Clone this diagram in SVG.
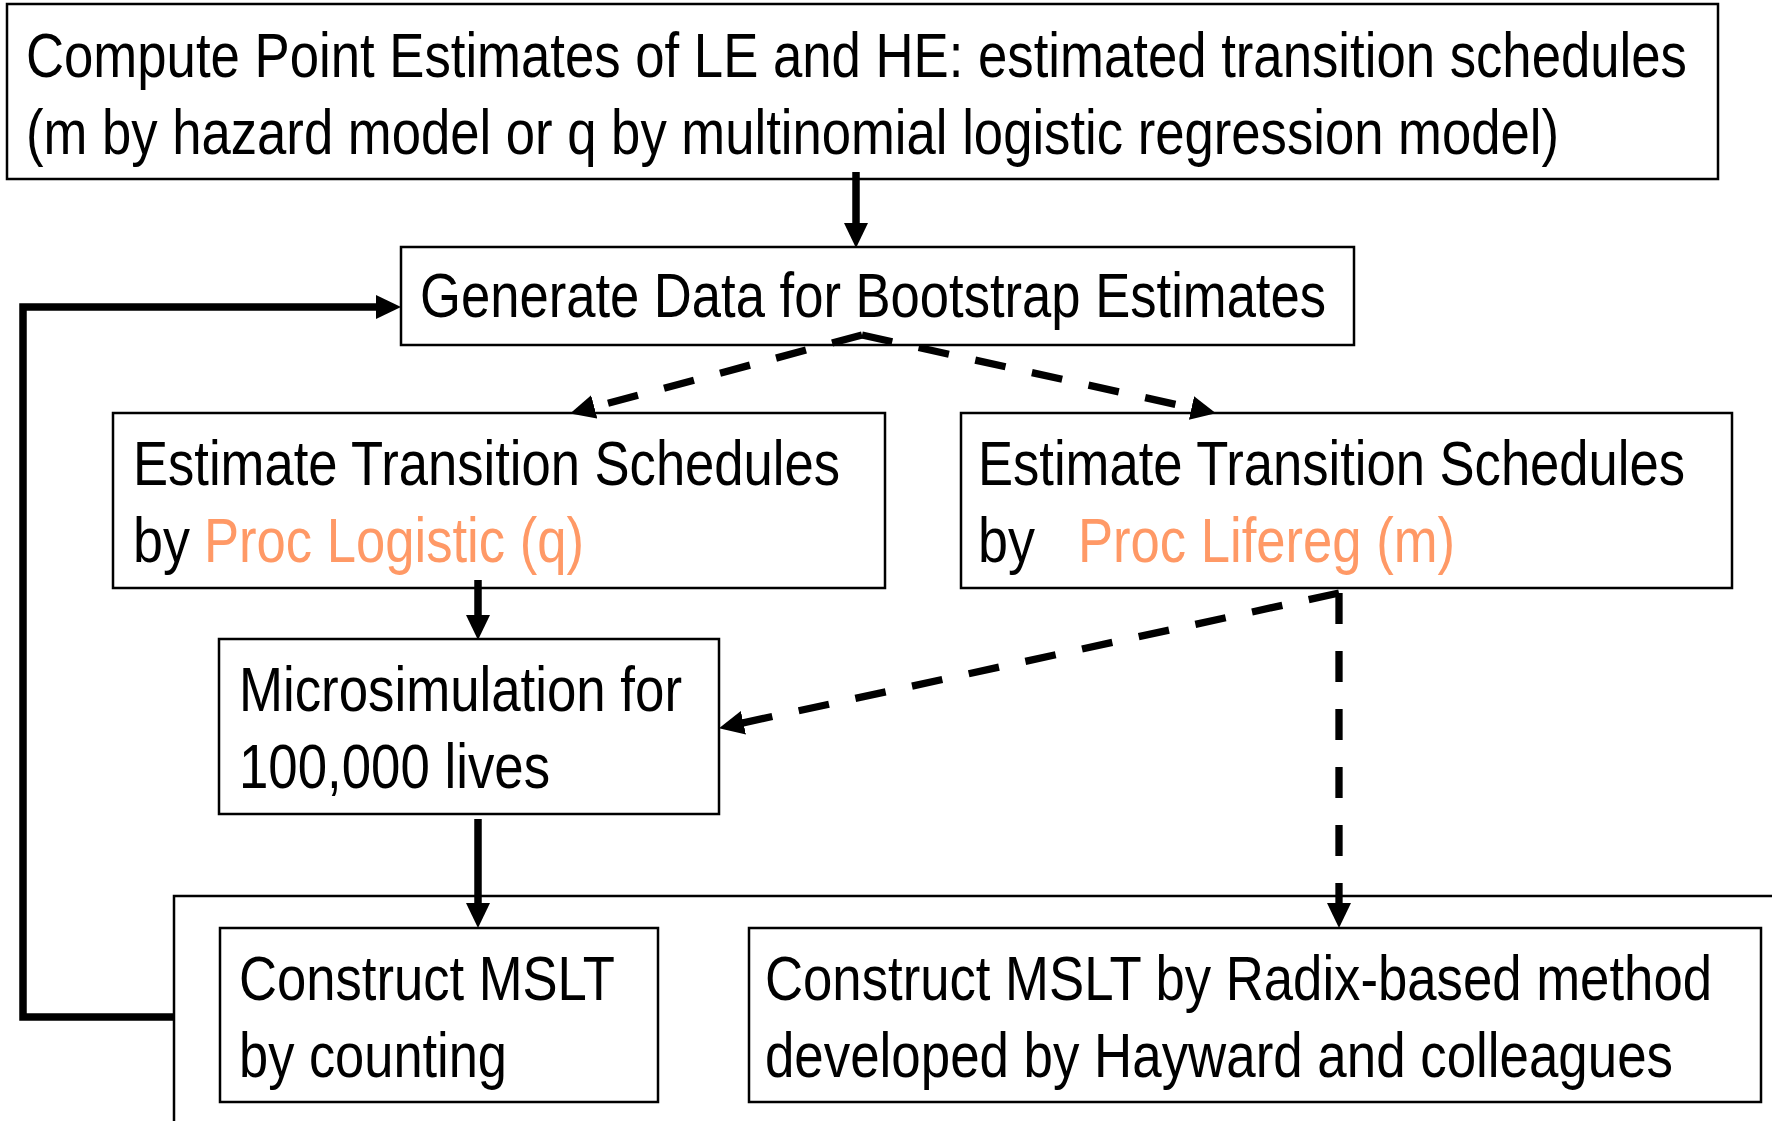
<svg xmlns="http://www.w3.org/2000/svg" width="1772" height="1121" viewBox="0 0 1772 1121">
<style>
.box{fill:#fff;stroke:#000;stroke-width:2.5}
.t{font-family:"Liberation Sans",Arial,sans-serif;font-size:63px;fill:#000}
.o{fill:#FF9966}
.sol{fill:none;stroke:#000;stroke-width:7.5}
.loop{fill:none;stroke:#000;stroke-width:7.5;stroke-linejoin:miter}
.dash{fill:none;stroke:#000;stroke-width:7.3;stroke-dasharray:31 27}
</style>
<defs>
<marker id="ah" markerUnits="userSpaceOnUse" markerWidth="28" markerHeight="26" refX="4" refY="12" orient="auto" viewBox="0 0 28 26">
<path d="M0,0 L25,12 L0,24 z" fill="#000"/>
</marker>
</defs>
<rect width="1772" height="1121" fill="#fff"/>

<g id="container">
<path class="box" d="M174,1130 V896 H1780" fill="none"/>
</g>

<g id="node-compute">
<rect class="box" x="7" y="4" width="1711" height="175"/>
<g transform="scale(0.82 1)">
<text class="t" x="31.7" y="77" textLength="2025.6" lengthAdjust="spacingAndGlyphs">Compute Point Estimates of LE and HE: estimated transition schedules</text>
<text class="t" x="31.7" y="154" textLength="1869.5" lengthAdjust="spacingAndGlyphs">(m by hazard model or q by multinomial logistic regression model)</text>
</g>
</g>

<g id="node-generate">
<rect class="box" x="401" y="247" width="953" height="98"/>
<g transform="scale(0.82 1)">
<text class="t" x="512.2" y="317" textLength="1104.9" lengthAdjust="spacingAndGlyphs">Generate Data for Bootstrap Estimates</text>
</g>
</g>

<g id="node-logistic">
<rect class="box" x="113" y="413" width="772" height="175"/>
<g transform="scale(0.82 1)">
<text class="t" x="162.2" y="485" textLength="862.2" lengthAdjust="spacingAndGlyphs">Estimate Transition Schedules</text>
<text class="t" x="162.2" y="562" textLength="69.5" lengthAdjust="spacingAndGlyphs">by</text>
<text class="t o" x="248.8" y="562" textLength="463.4" lengthAdjust="spacingAndGlyphs">Proc Logistic (q)</text>
</g>
</g>

<g id="node-lifereg">
<rect class="box" x="961" y="413" width="771" height="175"/>
<g transform="scale(0.82 1)">
<text class="t" x="1192.7" y="485" textLength="862.2" lengthAdjust="spacingAndGlyphs">Estimate Transition Schedules</text>
<text class="t" x="1192.7" y="562" textLength="69.5" lengthAdjust="spacingAndGlyphs">by</text>
<text class="t o" x="1314.6" y="562" textLength="459.8" lengthAdjust="spacingAndGlyphs">Proc Lifereg (m)</text>
</g>
</g>

<g id="node-micro">
<rect class="box" x="219" y="639" width="500" height="175"/>
<g transform="scale(0.82 1)">
<text class="t" x="291.5" y="711" textLength="540.2" lengthAdjust="spacingAndGlyphs">Microsimulation for</text>
<text class="t" x="291.5" y="788" textLength="379.3" lengthAdjust="spacingAndGlyphs">100,000 lives</text>
</g>
</g>

<g id="node-counting">
<rect class="box" x="220" y="928" width="438" height="174"/>
<g transform="scale(0.82 1)">
<text class="t" x="291.5" y="1000" textLength="458.5" lengthAdjust="spacingAndGlyphs">Construct MSLT</text>
<text class="t" x="291.5" y="1077" textLength="326.8" lengthAdjust="spacingAndGlyphs">by counting</text>
</g>
</g>

<g id="node-radix">
<rect class="box" x="749" y="928" width="1012" height="174"/>
<g transform="scale(0.82 1)">
<text class="t" x="932.9" y="1000" textLength="1154.9" lengthAdjust="spacingAndGlyphs">Construct MSLT by Radix-based method</text>
<text class="t" x="932.9" y="1077" textLength="1107.3" lengthAdjust="spacingAndGlyphs">developed by Hayward and colleagues</text>
</g>
</g>

<g id="connectors">
<path class="sol" d="M856,172 V227" marker-end="url(#ah)"/>
<path class="sol" d="M478,580 V619" marker-end="url(#ah)"/>
<path class="sol" d="M478,819 V907" marker-end="url(#ah)"/>
<path class="loop" d="M174,1017 H23 V307 H380" marker-end="url(#ah)"/>
<path class="dash" d="M862,335 L590.4,408" marker-end="url(#ah)"/>
<path class="dash" d="M862,335 L1195.4,408.8" marker-end="url(#ah)"/>
<path class="dash" d="M1339,593 L739.5,723.7" marker-end="url(#ah)"/>
<path class="dash" d="M1339,593 V907" marker-end="url(#ah)"/>
</g>
</svg>
